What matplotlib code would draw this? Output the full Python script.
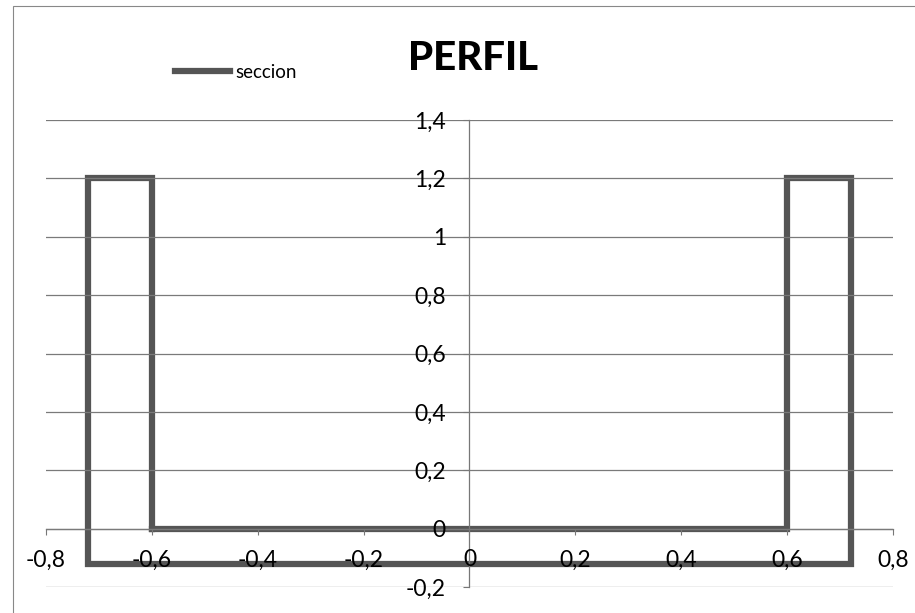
import numpy as np
import matplotlib.pyplot as plt
from matplotlib.ticker import FuncFormatter
from matplotlib.patches import Rectangle

# perfil de la seccion (contorno cerrado)
x_seccion = [-0.6, -0.6, -0.72, -0.72, 0.72, 0.72, 0.6, 0.6, -0.6]
y_seccion = [0.0, 1.2, 1.2, -0.12, -0.12, 1.2, 1.2, 0.0, 0.0]

x_ticks = [-0.8, -0.6, -0.4, -0.2, 0.0, 0.2, 0.4, 0.6, 0.8]
y_ticks = [-0.2, 0.0, 0.2, 0.4, 0.6, 0.8, 1.0, 1.2, 1.4]

plt.rcParams['font.family'] = ['Lato', 'DejaVu Sans']

fig = plt.figure(figsize=(9.15, 6.13), dpi=100)
ax = fig.add_axes([46 / 915, 26 / 613, 847 / 915, 467 / 613])

ax.plot(x_seccion, y_seccion, color='#555555', lw=4.5, label='seccion',
        solid_joinstyle='miter', zorder=2)

ax.set_xlim(-0.8, 0.8)
ax.set_ylim(-0.2, 1.4)
ax.set_xticks(x_ticks)
ax.set_yticks(y_ticks)

coma = FuncFormatter(lambda v, p: ('%g' % round(v, 2)).replace('.', ','))
ax.xaxis.set_major_formatter(coma)
ax.yaxis.set_major_formatter(coma)

# ejes cruzando en el origen
ax.spines['left'].set_position(('data', 0))
ax.spines['bottom'].set_position(('data', 0))
ax.spines['top'].set_visible(False)
ax.spines['right'].set_visible(False)
for s in ('left', 'bottom'):
    ax.spines[s].set_color('#777777')
    ax.spines[s].set_linewidth(0.9)

ax.yaxis.grid(True, color='#7a7a7a', lw=0.9)
ax.xaxis.set_zorder(3)
ax.yaxis.set_zorder(3)
ax.tick_params(axis='x', direction='out', length=4, width=0.8, color='#777777',
               pad=11, labelsize=16.5)
ax.tick_params(axis='y', direction='out', length=4, width=0.8, color='#777777',
               pad=13, labelsize=16.5)

fig.text(473 / 915, 1 - 58 / 613, 'PERFIL', fontsize=29, fontweight='black',
         ha='center', va='center')

ax.legend(loc='center', bbox_to_anchor=(236 / 915, 1 - 72 / 613),
          bbox_transform=fig.transFigure, frameon=False, fontsize=13.5,
          handlelength=2.9, handletextpad=0.3)

# borde del grafico
fig.patches.append(Rectangle((13 / 915, -0.1), 1.2, 1 - 6 / 613 + 0.1,
                             transform=fig.transFigure, fill=False,
                             edgecolor='#888888', lw=0.8))

fig.savefig('out.png', dpi=100)
